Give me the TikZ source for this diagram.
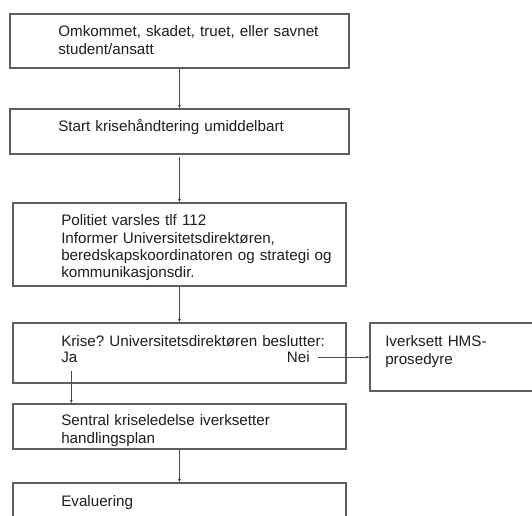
\documentclass[tikz,border=0pt]{standalone}
\usepackage{fontspec}
\setmainfont{Liberation Sans}
\usetikzlibrary{arrows.meta,calc}
\definecolor{boxgray}{HTML}{5E5E5E}
\definecolor{linegray}{HTML}{4A4A4A}
\definecolor{inkgray}{HTML}{1E1E1E}
\frenchspacing
\begin{document}
\begin{tikzpicture}[x=0.75pt,y=-0.75pt,
  box/.style={draw=boxgray, line width=0.9pt, rectangle, inner sep=0pt},
  txt/.style={anchor=base west, inner sep=0pt, text width=#1, align=left,
    font=\fontsize{11.4}{13}\selectfont, text=inkgray},
  txt/.default=240pt,
  word/.style={inner sep=0pt, font=\fontsize{11.4}{13}\selectfont, text=inkgray},
  link/.style={draw=linegray, line width=0.7pt, -{Latex[length=2.5pt,width=2.2pt]}}]

% page area, with boxes running past the edges cut off
\path[use as bounding box, fill=white] (0,0) rectangle (532,516);
\clip (0,0) rectangle (532,516);

% flow boxes
\node[box, minimum width=254.25pt, minimum height=40.5pt]  (b1) at (179.5,41)    {};
\node[box, minimum width=254.25pt, minimum height=33.75pt] (b2) at (179.5,131.5) {};
\node[box, minimum width=249.75pt, minimum height=62.25pt] (b3) at (179.5,244.5) {};
\node[box, minimum width=249.75pt, minimum height=45pt]    (b4) at (179.5,353)   {};
\node[box, minimum width=131.25pt, minimum height=51pt]    (r)  at (457.5,357)   {};
\node[box, minimum width=249.75pt, minimum height=33.75pt] (b5) at (179.5,426.5) {};
\node[box, minimum width=249.75pt, minimum height=42.75pt] (b6) at (179.5,511.5) {};

% box texts
\node[txt] (t1) at (58,36.7) {Omkommet, skadet, truet, eller savnet\\student/ansatt};
\node[txt] (t2) at (58,131.7) {Start krisehåndtering umiddelbart};
\node[txt] (t3) at (61,225.7) {Politiet varsles tlf 112\\Informer Universitetsdirektøren,\\beredskapskoordinatoren og strategi og\\kommunikasjonsdir.};
\node[txt] (t4) at (61,346.7) {Krise? Universitetsdirektøren beslutter:};
\node[word, anchor=base west] (ja)  at (61,362.5)  {Ja};
\node[word, anchor=base east] (nei) at (310,362.5) {Nei};
\node[txt=110pt] (tr) at (385,346.7) {Iverksett HMS-\\prosedyre};
\node[txt] (t5) at (61,425.7) {Sentral kriseledelse iverksetter\\handlingsplan};
\node[txt] (t6) at (61,506) {Evaluering};

% connectors
\draw[link] (b1) -- (b2);
\draw[link, shorten <=2pt] (b2) -- (b3);
\draw[link] (b3) -- (b4);
\draw[link] ($(ja.south)+(2,8)$) -- ($(ja.south |- b5.north)+(2,0)$);
\draw[link] ($(nei.east)+(8,0)$) -- (nei.east -| r.west);
\draw[link] (b5) -- (b6);
\end{tikzpicture}
\end{document}
